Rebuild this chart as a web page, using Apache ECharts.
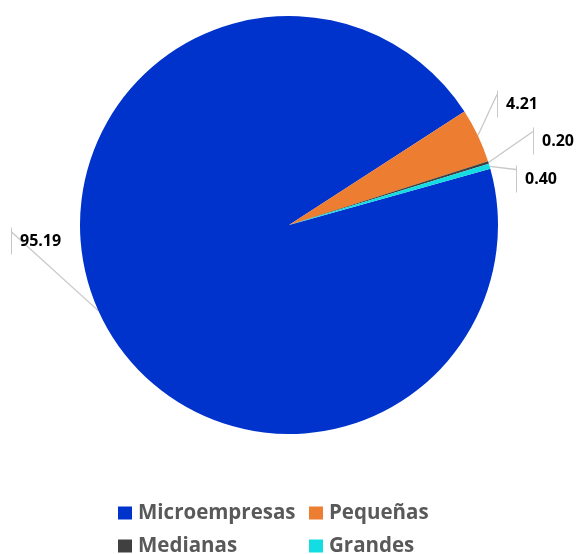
<!DOCTYPE html>
<html>
<head>
<meta charset="utf-8">
<script src="https://cdn.jsdelivr.net/npm/echarts@6/dist/echarts.min.js"></script>
<style>
  html, body { margin: 0; padding: 0; background: #fff; }
  #chart { width: 576px; height: 554px; }
</style>
</head>
<body>
<div id="chart"></div>
<script>
// Company size shares (%)
const categories = ['Microempresas', 'Pequeñas', 'Medianas', 'Grandes'];
const shares = [95.19, 4.21, 0.20, 0.40];
const sliceColors = ['#0033CC', '#ED7D31', '#404040', '#13DDE3'];

// Where each value callout sits (left edge of its tick, vertical middle)
const calloutSpots = [[11, 241], [497, 104], [533, 141], [516, 179]];
const tickHeight = 27;

const chart = echarts.init(document.getElementById('chart'));

chart.setOption({
  animation: false,
  backgroundColor: '#ffffff',
  legend: {
    left: 118,
    top: 502,
    width: 400,
    padding: 0,
    itemWidth: 14,
    itemHeight: 13,
    itemGap: 11,
    icon: 'rect',
    data: categories,
    textStyle: {
      fontFamily: 'Open Sans',
      fontWeight: 'bold',
      fontSize: 20.5,
      color: '#595959',
      width: 160,
      height: 22,
      lineHeight: 22,
      padding: [0, 0, 0, 1]
    }
  },
  series: [{
    type: 'pie',
    center: [289, 225],
    radius: [0, 209],
    startAngle: 15.6,
    clockwise: true,
    avoidLabelOverlap: false,
    data: categories.map((name, i) => ({
      name: name,
      value: shares[i],
      itemStyle: { color: sliceColors[i] }
    })),
    label: {
      show: true,
      position: 'outside',
      formatter: p => '{bar|}{v|' + p.value.toFixed(2) + '}',
      rich: {
        bar: { width: 1, height: tickHeight, backgroundColor: '#c8c8c8' },
        v: {
          fontFamily: 'Open Sans',
          fontWeight: 'bold',
          fontSize: 16,
          color: '#000000',
          padding: [0, 0, 0, 8]
        }
      }
    },
    labelLine: {
      show: true,
      length: 10,
      length2: 10,
      lineStyle: { color: '#c8c8c8', width: 1.3 }
    },
    labelLayout: function (params) {
      const spot = calloutSpots[params.dataIndex];
      const start = params.labelLinePoints ? params.labelLinePoints[0] : [spot[0], spot[1]];
      const tickTop = [spot[0], spot[1] - tickHeight / 2 + 4];
      return {
        x: spot[0],
        y: spot[1],
        align: 'left',
        verticalAlign: 'middle',
        labelLinePoints: [start, tickTop, tickTop]
      };
    }
  }]
});
</script>
</body>
</html>
